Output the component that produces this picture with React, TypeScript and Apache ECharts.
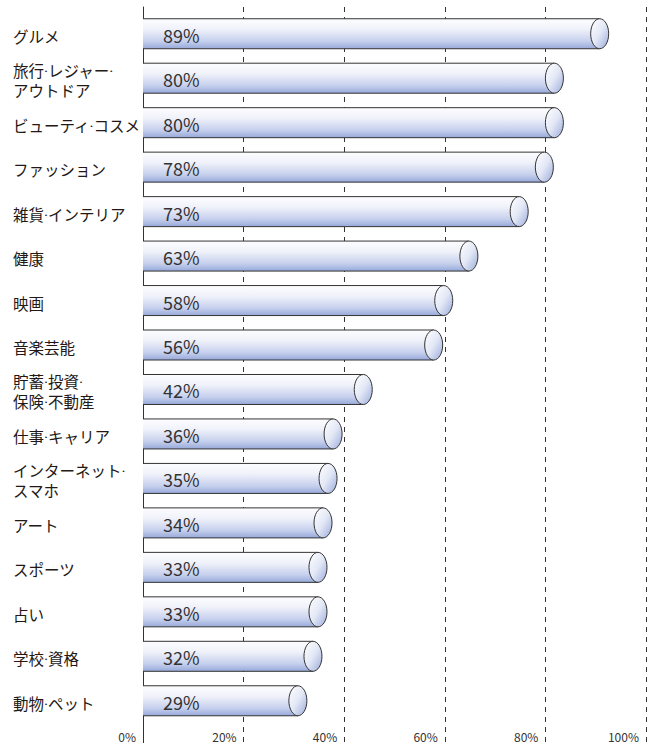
import React, { useEffect, useRef } from "react";
import * as echarts from "echarts";

const categories = [
  "グルメ",
  "旅行·レジャー·\nアウトドア",
  "ビューティ·コスメ",
  "ファッション",
  "雑貨·インテリア",
  "健康",
  "映画",
  "音楽芸能",
  "貯蓄·投資·\n保険·不動産",
  "仕事·キャリア",
  "インターネット·\nスマホ",
  "アート",
  "スポーツ",
  "占い",
  "学校·資格",
  "動物·ペット",
];
const values = [89, 80, 80, 78, 73, 63, 58, 56, 42, 36, 35, 34, 33, 33, 32, 29];
const tickValues = [0, 20, 40, 60, 80, 100];

const FONT = "'Noto Sans CJK JP', 'Noto Sans', sans-serif";
const LABEL_FONT = "Roboto, 'Noto Sans CJK JP', sans-serif";

export default function App() {
  const ref = useRef<HTMLDivElement>(null);
  useEffect(() => {
    if (!ref.current) return;
    const chart = echarts.init(ref.current, undefined, { renderer: "svg" });
    const bodyFill = () =>
      new echarts.graphic.LinearGradient(0, 0, 0, 1, [
        { offset: 0, color: "#fdfdff" },
        { offset: 0.35, color: "#f0f2fa" },
        { offset: 0.75, color: "#c6d0ed" },
        { offset: 1, color: "#97a9da" },
      ]);
    const capFill = () =>
      new echarts.graphic.LinearGradient(0, 0, 1, 1, [
        { offset: 0, color: "#ffffff" },
        { offset: 0.5, color: "#e3e8f6" },
        { offset: 1, color: "#9aabdb" },
      ]);
    const option: any = {
      animation: false,
      grid: [
        { left: 143, right: 7, top: 7, bottom: 0, containLabel: false },
        { left: 143, right: 7, top: 11.5, height: 711.5, containLabel: false },
        { left: 143, right: 7, top: 15.5, height: 711.5, containLabel: false },
      ],
      xAxis: [
        {
          type: "value",
          gridIndex: 0,
          min: 0,
          max: 100,
          interval: 20,
          axisLine: { show: false },
          axisTick: { show: false },
          splitLine: {
            show: true,
            lineStyle: { color: "#333", type: [5, 5], width: 1 },
          },
          axisLabel: {
            inside: true,
            margin: 1,
            align: "right",
            padding: [0, 7, 0, 0],
            fontSize: 12,
            lineHeight: 12,
            color: "#333",
            fontFamily: FONT,
            formatter: (v: number) => (tickValues.includes(v) ? v + "%" : ""),
          },
        },
        { type: "value", gridIndex: 1, min: 0, max: 100, show: false },
        { type: "value", gridIndex: 2, min: 0, max: 100, show: false },
      ],
      yAxis: [
        {
          type: "value",
          gridIndex: 0,
          min: 0,
          max: 1,
          axisLine: { show: true, lineStyle: { color: "#333", width: 1 } },
          axisTick: { show: false },
          axisLabel: { show: false },
          splitLine: { show: false },
        },
        {
          type: "category",
          gridIndex: 1,
          inverse: true,
          data: categories,
          axisLine: { show: false },
          axisTick: { show: false },
          axisLabel: { show: false },
          splitLine: { show: false },
        },
        {
          type: "category",
          gridIndex: 2,
          inverse: true,
          data: categories,
          axisLine: { show: false },
          axisTick: { show: false },
          splitLine: { show: false },
          axisLabel: {
            align: "left",
            margin: 130,
            fontSize: 15.5,
            lineHeight: 20,
            color: "#231815",
            fontFamily: LABEL_FONT,
          },
        },
      ],
      series: [
        {
          type: "custom",
          xAxisIndex: 1,
          yAxisIndex: 1,
          data: values.map((v, i) => [v, i]),
          renderItem: (params: any, api: any) => {
            const v = api.value(0);
            const c = api.value(1);
            const p0 = api.coord([0, c]);
            const p1 = api.coord([v, c]);
            const rx = 9;
            const ry = 15;
            const x0 = p0[0];
            const xe = p1[0] + rx;
            const y = p0[1];
            return {
              type: "group",
              children: [
                {
                  type: "rect",
                  shape: { x: x0, y: y - ry, width: xe - x0, height: ry * 2 },
                  style: { fill: bodyFill() },
                },
                {
                  type: "line",
                  shape: { x1: x0, y1: y - ry, x2: xe, y2: y - ry },
                  style: { stroke: "#333", lineWidth: 1 },
                },
                {
                  type: "line",
                  shape: { x1: x0, y1: y + ry, x2: xe, y2: y + ry },
                  style: { stroke: "#333", lineWidth: 1 },
                },
                {
                  type: "ellipse",
                  shape: { cx: xe, cy: y, rx, ry },
                  style: { fill: capFill(), stroke: "#333", lineWidth: 1 },
                },
                {
                  type: "text",
                  style: {
                    text: v + "%",
                    x: x0 + 20,
                    y: y + 1,
                    verticalAlign: "middle",
                    align: "left",
                    fontSize: 18,
                    fontFamily: FONT,
                    fill: "#333",
                  },
                },
              ],
            };
          },
        },
      ],
    };
    chart.setOption(option);
    return () => chart.dispose();
  }, []);
  return (
    <div
      ref={ref}
      style={{ position: "absolute", left: 0, top: 0, width: 653, height: 743 }}
    />
  );
}
